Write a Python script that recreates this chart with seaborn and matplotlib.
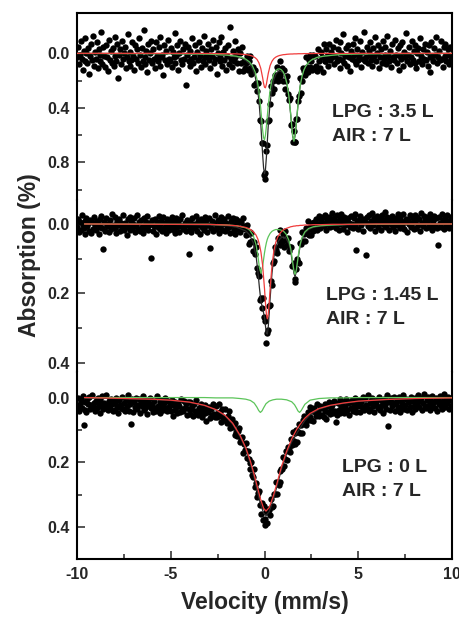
"""Stacked Mossbauer spectra (LPG / air series) redrawn with seaborn."""

import matplotlib

matplotlib.use("Agg")
import matplotlib.pyplot as plt
import numpy as np
import pandas as pd
import seaborn as sns

# ---------------------------------------------------------------------------
# Measured spectra (absorption %, one value per velocity channel, -10..10 mm/s)
# ---------------------------------------------------------------------------
TOP_ABS = [
    .03, -.05, .08, .01, -.09, .04, .12, -.02, .06, -.11, .00, .07, -.04, .15, .02, -.07, .05, -.13, .09, -.01,
    .04, -.08, .11, -.03, .06, .01, -.16, .08, -.05, .02, .10, -.06, .03, .13, -.10, .05, -.02, .07, -.04, .09,
    -.12, .02, .06, -.07, .18, .01, -.03, .08, -.09, .04, .00, -.05, .11, .03, -.14, .06, .09, -.01, .05, -.08,
    .02, .12, -.06, .04, -.03, .07, -.11, .01, .10, -.04, .06, -.17, .03, .08, -.02, .14, -.07, .05, .00, -.09,
    .07, -.03, .04, .11, -.08, .02, .06, -.05, .09, -.12, .03, .01, .16, -.06, .05, -.02, .08, -.10, .04, .06,
    -.04, .10, -.01, .03, -.15, .07, .02, -.06, .12, .00, -.09, .05, .08, -.03, .04, -.07, .23, .01, -.05, .06,
    .09, -.02, .04, -.11, .07, .03, -.06, .13, -.01, .05, -.08, .02, .10, -.04, .06, -.13, .03, .08, -.02, .01,
    -.07, .05, .11, -.03, .02, -.10, .07, .04, -.05, .15, .00, -.08, .06, .03, -.12, .09, -.01, .05, -.04, .12,
    .02, -.06, .08, -.19, .04, .10, -.02, .06, -.09, .03, .01, .07, -.03, .13, .00, .07, -.05, .13, .06, .11,
    .07, .02, .12, .06, .11, .02, .15, .12, .10, .23, .12, .22, .28, .22, .35, .49, .50, .66, .66, .89,
    .88, .92, .72, .67, .50, .49, .37, .24, .29, .20, .26, .16, .19, .10, .20, .15, .06, .17, .14, .11,
    .20, .12, .26, .20, .17, .30, .34, .33, .53, .52, .65, .57, .65, .65, .48, .48, .35, .31, .18, .29,
    .20, .11, .13, .16, .03, .10, .14, .05, .10, .01, .06, .12, .01,
    .11, .02, .09, .13, -.03, .06, .11, -.01, .03, .14, -.07, .06, .06, -.03, .02, .09, -.07, .05, -.01, .03,
    -.05, .08, .02, -.10, .06, -.03, .04, .11, -.08, .00, .05, -.14, .07, .02, -.04, .09, -.06, .03, .13, -.02,
    .04, -.07, .01, .06, -.11, .08, -.03, .05, .02, -.09, .10, -.01, .04, -.16, .06, .03, -.05, .07, -.02, .01,
    -.08, .05, .09, -.04, .02, -.12, .06, .00, -.06, .11, .03, -.03, .07, -.09, .04, .01, -.05, .08, -.13, .02,
    .06, -.02, .10, -.07, .03, .05, -.10, .01, .07, -.04, .12, -.06, .02, .04, -.08, .09, -.01, .03, -.15, .06,
    .01, -.05, .08, .03, -.09, .05, -.02, .07, -.06, .11, .00, -.04, .06, -.11, .02, .08, -.03, .04, -.07, .05,
    -.01, .09, -.06, .03, .14, -.08, .02, .06, -.04, .01, -.12, .07, .03, -.02, .05, -.09, .04, .10, -.05, .02,
    -.07, .06, .01, -.03, .08, -.05, .04, .02,
]

MID_ABS = [
    .008, -.014, .022, -.005, .016, -.026, .003, .011, -.009, .030, -.018, .006, -.002, .019, -.012, .025, -.007, .014, -.021, .004,
    .017, -.010, .001, .028, -.015, .009, -.023, .013, .072, -.006, .020, -.017, .005, -.001, .024, -.011, .015, -.028, .007, .002,
    -.019, .012, .027, -.008, .003, -.014, .021, -.004, .010, -.025, .016, -.002, .008, .031, -.013, .005, -.020, .018, -.009, .011,
    .000, -.016, .023, .006, -.027, .014, -.005, .019, -.011, .009, .026, -.018, .003, .013, -.007, -.022, .017, .004, -.003, .098,
    -.012, .021, .007, -.015, .029, -.006, .010, -.024, .015, .001, -.009, .020, -.019, .012, -.003, .025, -.014, .006, .018, -.008,
    .011, -.021, .002, .016, -.010, .027, -.017, .008, -.004, .022, -.013, .005, -.026, .014, .009, -.002, .019, -.011, .003, .087,
    -.007, .015, .024, -.018, .006, -.001, .013, -.023, .020, -.009, .004, .028, -.015, .010, -.005, .017, -.020, .007, -.012, .023,
    .002, -.016, .070, .011, -.008, .019, -.003, -.025, .014, .006, -.011, .026, -.006, .009, -.019, .016, .001, -.014, .021, -.004,
    .012, -.022, .008, .025, -.010, .003, -.017, .018, -.001, .030, -.013, .007, .015, -.009, .022, -.005, .011, -.018, .006, .014,
    .032, .002, .030, .059, .023, .053, .026, .049, .079, .053, .086, .065, .127, .141, .149, .218, .213, .243, .212, .268,
    .270, .280, .342, .313, .304, .237, .233, .164, .176, .113, .106, .065, .075, .084, .041, .045, .061, .016, .047, .051,
    .030, .067, .020, .045, .060, .040, .078, .065, .065, .122, .119, .112, .159, .168, .131, .100, .108, .111, .054, .057,
    .023, .050, .029, .050, .012, .027, -.010, .032, .015, .008, .032, -.002, .019,
    -.006, .012, -.014, .017, .001, -.024, .013, -.011, .002, -.019, .007, -.026, -.003, .016, -.014, .000, -.021, .009, -.008, -.033,
    .005, -.017, -.002, .012, -.025, -.009, .018, -.013, .001, -.028, -.006, .014, -.020, .003, -.011, .022, -.016, -.004, .008, -.024,
    -.001, .011, -.018, .006, -.029, .075, -.007, .015, -.012, -.023, .002, -.009, .019, -.015, -.005, .090, -.020, .007, -.027, -.003,
    .013, -.010, -.031, .004, -.016, .021, -.008, -.022, .009, -.002, -.014, .017, -.026, .000, -.011, .006, -.035, .010, -.019, -.006,
    .016, -.013, -.001, -.024, .008, -.009, .020, -.017, .003, -.028, -.005, .012, -.021, -.010, .005, -.030, .014, -.007, -.015, .024,
    -.012, .001, -.025, .009, -.004, -.018, .015, -.027, -.008, .011, -.020, .003, -.014, .019, -.032, -.002, .007, -.023, -.011, .013,
    -.006, -.019, .010, -.028, .002, -.013, .017, -.009, -.024, .005, -.016, .012, .060, -.021, -.003, .008, -.029, -.012, .015, -.007,
    -.018, .004, -.025, -.010, .011, -.004, -.020, .006,
]

BOT_ABS = [
    .028, .000, .043, .021, .009, .032, -.006, .086, .037, .014, .046, .005, .019, -.002, .034, .024, -.009, .029, .016, .040,
    .010, .033, .002, .022, .049, .007, .027, -.004, .036, .017, .030, -.008, .023, .038, .011, .031, .003, .020, .042, .008,
    .038, .016, .002, .029, .047, .007, .024, .032, -.002, .036, .018, .042, .009, .027, -.008, .040, .021, .013, .083, .004,
    .044, .015, .030, .000, .034, .023, .005, .048, .010, .026, -.004, .039, .019, .031, .007, .051, .014, .025, .002, .033,
    .020, .044, .011, .031, .040, -.004, .025, .035, .015, .048, .006, .027, .039, .018, .002, .033, .043, .012, .030, .023,
    .042, .008, .056, .023, .038, .013, .030, .049, .018, .025, .045, .004, .036, .040, .011, .032, .020, .054, .015, .035,
    .014, .050, .036, .026, .057, .021, .041, .008, .046, .053, .031, .044, .019, .060, .033, .048,
    .024, .048, .072, .032, .046, .028, .063, .036, .055, .021, .051, .059,
    .026, .059, .047, .019, .057, .045, .077, .035, .061, .069, .036, .062, .080, .057, .041, .095, .082, .066, .092, .083,
    .116, .079, .105, .119, .104, .093, .137, .129, .123, .170, .142, .163, .140, .187, .164, .190, .221, .203, .198, .238,
    .244, .222, .275, .265, .306, .295, .290, .332, .361, .327, .378, .335, .374, .395, .354, .387, .343, .349, .364, .312,
    .337, .335, .297, .299, .261, .297, .260, .269, .227, .261, .220, .222, .184, .211, .191, .164, .193, .154, .155, .168,
    .127, .148, .107, .134, .144, .111, .101, .136, .106, .081, .109, .085, .109, .069, .056, .080, .085, .063, .046, .070,
    .059, .029, .069, .040, .072, .031, .044, .056, .021, .045, .058, .025, .031,
    .053, .029, .060, .021, .042, .066, .026, .046, .014, .051, .031, .024, .049, .010, .041, .076, .055, .016, .037, .003,
    .048, .026, .040, .015, .048, .028, .004, .039, .017, .055, .014, .031, .007, .041, .024, .000, .037, .046, .018, .027,
    .007, .046, .015, .029, -.002, .037, .004, .024, .031, -.008, .040, .017, .034, .010, .001, .027, .044, .014, .021, .006,
    .033, -.003, .039, .025, .011, .048, .003, .022, .008, .036, -.009, .087, .013, .039, .002, .025, .016, -.003, .042, .020,
    .010, .031, -.001, .028, .044, .006, .017, -.007, .034, .023, .003, .038, .009, .015, .029, -.002, .046, .012, .026, .001,
    .035, .005, .019, -.007, .030, .012, .002, .039, .016, -.010, .025, .033, .009, -.002, .022, .038, .003, .018, -.005, .028,
    .014, .031, .000, .041, .006, .020, -.006, .027, .034, .011, -.012, .023, .029, .004, .017, -.003, .036, .008, .026, .001,
]

# ---------------------------------------------------------------------------
# Fitted curves: total (black), singlet (red), doublet (green)
# ---------------------------------------------------------------------------
TOP_FIT_VEL = [-10, -5, -3, -2, -1.5, -1.2, -1.0, -0.8, -0.65, -0.5, -0.4, -0.3, -0.2, -0.1, -0.05, 0.0, 0.05,
               0.1, 0.2, 0.3, 0.4, 0.5, 0.6, 0.7, 0.8, 0.9, 1.0, 1.1, 1.2, 1.3, 1.4, 1.45, 1.5, 1.57, 1.65,
               1.7, 1.8, 1.9, 2.0, 2.1, 2.2, 2.35, 2.5, 2.8, 3.2, 4.0, 5.0, 7.0, 10]
TOP_FIT_TOTAL = [.001, .003, .007, .015, .026, .038, .052, .077, .110, .169, .236, .344, .515, .742, .839, .884, .855,
                 .764, .532, .358, .254, .192, .156, .137, .130, .134, .147, .178, .230, .319, .455, .535, .606, .649,
                 .589, .513, .356, .243, .172, .125, .096, .068, .051, .031, .021, .010, .005, .002, .001]
TOP_FIT_SINGLET = [.000, .000, .001, .003, .004, .007, .009, .014, .020, .032, .045, .069, .110, .179, .220, .249, .253,
                   .227, .148, .090, .058, .039, .028, .021, .016, .013, .010, .009, .007, .006, .005, .005, .005, .004,
                   .004, .004, .003, .003, .003, .002, .002, .002, .002, .001, .001, .001, .000, .000, .000]
TOP_FIT_DOUBLET = [.001, .003, .006, .013, .021, .031, .043, .063, .090, .137, .191, .275, .405, .563, .619, .635, .603,
                   .537, .384, .268, .196, .153, .128, .116, .114, .121, .137, .169, .223, .313, .450, .530, .601, .645,
                   .585, .509, .353, .240, .169, .123, .094, .066, .049, .030, .020, .009, .005, .002, .001]

MID_FIT_VEL = [-9.6, -5, -3, -2, -1.5, -1.0, -0.8, -0.6, -0.45, -0.35, -0.27, -0.19, -0.1, 0.0, 0.05, 0.1, 0.15,
               0.2, 0.25, 0.3, 0.4, 0.5, 0.6, 0.7, 0.85, 1.0, 1.15, 1.3, 1.4, 1.5, 1.57, 1.63, 1.7, 1.8, 1.9, 2.0,
               2.15, 2.35, 2.6, 3.0, 3.6, 4.5, 6, 10]
MID_FIT_TOTAL = [.000, .001, .003, .005, .009, .020, .031, .054, .092, .138, .184, .223, .242, .269, .293, .314, .317,
                 .297, .258, .214, .141, .095, .069, .053, .041, .037, .041, .057, .079, .116, .142, .151, .137, .096,
                 .063, .043, .026, .016, .010, .006, .004, .002, .001, .000]
MID_FIT_SINGLET = [.000, .001, .001, .003, .005, .010, .014, .022, .032, .044, .059, .081, .119, .186, .226, .260, .273,
                   .260, .226, .186, .119, .077, .053, .038, .025, .017, .013, .010, .008, .007, .006, .006, .005, .005,
                   .004, .004, .003, .003, .002, .002, .001, .001, .000, .000]
MID_FIT_DOUBLET = [.000, .001, .001, .003, .005, .011, .017, .033, .060, .093, .126, .142, .122, .083, .067, .054, .044,
                   .037, .032, .027, .021, .018, .016, .016, .017, .020, .029, .047, .071, .108, .135, .145, .132, .091,
                   .059, .039, .023, .013, .008, .005, .003, .001, .001, .000]

BOT_FIT_VEL = [-9.6, -8, -6, -5, -4, -3.2, -2.6, -2.1, -1.7, -1.3, -1.0, -0.75, -0.55, -0.4, -0.31, -0.22, -0.13,
               -0.05, 0.08, 0.25, 0.45, 0.65, 0.9, 1.18, 1.45, 1.6, 1.72, 1.78, 1.87, 1.96, 2.02, 2.15, 2.43, 2.9,
               3.5, 4.2, 5, 6.5, 8, 10]
BOT_FIT_TOTAL = [.001, .003, .006, .009, .015, .025, .038, .057, .082, .121, .160, .204, .248, .285, .307, .328, .343,
                 .357, .364, .353, .319, .277, .223, .173, .137, .123, .111, .105, .098, .089, .083, .071, .053, .036,
                 .025, .018, .012, .006, .003, .001]
BOT_FIT_SINGLET = [.000, .002, .005, .008, .014, .024, .037, .055, .079, .117, .155, .197, .238, .272, .292, .312, .328,
                   .342, .351, .340, .308, .268, .215, .166, .128, .111, .098, .093, .085, .078, .073, .064, .049, .034,
                   .024, .017, .011, .006, .003, .001]
BOT_FIT_DOUBLET = [.000, .000, .000, .000, .000, .000, .001, .001, .001, .003, .005, .009, .017, .030, .040, .046, .041,
                   .032, .019, .011, .007, .005, .005, .007, .013, .022, .034, .041, .046, .040, .034, .021, .008, .003,
                   .001, .001, .000, .000, .000, .000]

SAMPLE_LABELS = [("LPG : 3.5 L", "AIR : 7 L"), ("LPG : 1.45 L", "AIR : 7 L"), ("LPG : 0 L", "AIR : 7 L")]

# ---------------------------------------------------------------------------
# Layout (pixel geometry of the original 459x621 figure)
# ---------------------------------------------------------------------------
W, H = 459, 621
X0, X1 = 77, 452
PANEL_PX = [(13, 200), (200, 372), (372, 559)]

PANELS = [
    dict(abs=TOP_ABS, vel=TOP_FIT_VEL, total=TOP_FIT_TOTAL, singlet=TOP_FIT_SINGLET, doublet=TOP_FIT_DOUBLET,
         ylim=(1.077, -0.296), major=[0.0, 0.4, 0.8], minor=[0.2, 0.6, 1.0], label_xy=(3.6, 0.465, 0.641)),
    dict(abs=MID_ABS, vel=MID_FIT_VEL, total=MID_FIT_TOTAL, singlet=MID_FIT_SINGLET, doublet=MID_FIT_DOUBLET,
         ylim=(0.426, -0.069), major=[0.0, 0.2, 0.4], minor=[0.1, 0.3], label_xy=(3.28, 0.219, 0.288)),
    dict(abs=BOT_ABS, vel=BOT_FIT_VEL, total=BOT_FIT_TOTAL, singlet=BOT_FIT_SINGLET, doublet=BOT_FIT_DOUBLET,
         ylim=(0.499, -0.079), major=[0.0, 0.2, 0.4], minor=[0.1, 0.3], label_xy=(4.12, 0.230, 0.303)),
]

RED = "#f03c3c"
GREEN = "#5cc45a"
LINE_BLACK = "#2a2a2a"


def main() -> None:
    sns.set_theme(style="ticks")
    plt.rcParams["font.family"] = ["Liberation Sans", "DejaVu Sans"]
    plt.rcParams["axes.linewidth"] = 1.5

    fig = plt.figure(figsize=(W / 100, H / 100), dpi=100)
    fig.patch.set_facecolor("white")

    axes = []
    for top_px, bot_px in PANEL_PX:
        rect = [X0 / W, 1 - bot_px / H, (X1 - X0) / W, (bot_px - top_px) / H]
        axes.append(fig.add_axes(rect))

    for i, (ax, p) in enumerate(zip(axes, PANELS)):
        spec = pd.DataFrame({"velocity": np.linspace(-10, 10, len(p["abs"])), "absorption": p["abs"]})
        fit = pd.DataFrame({"velocity": p["vel"], "total": p["total"],
                            "singlet": p["singlet"], "doublet": p["doublet"]})

        sns.scatterplot(data=spec, x="velocity", y="absorption", ax=ax, color="black",
                        s=21, linewidth=0, zorder=2)
        sns.lineplot(data=fit, x="velocity", y="total", ax=ax, color=LINE_BLACK, lw=0.9,
                     estimator=None, zorder=3)
        sns.lineplot(data=fit, x="velocity", y="doublet", ax=ax, color=GREEN, lw=0.9,
                     estimator=None, zorder=4)
        sns.lineplot(data=fit, x="velocity", y="singlet", ax=ax, color=RED, lw=0.9,
                     estimator=None, zorder=5)

        ax.set_xlim(-10, 10)
        ax.set_ylim(*p["ylim"])
        ax.set_xlabel("")
        ax.set_ylabel("")
        ax.set_facecolor("white")

        ax.set_yticks(p["major"])
        ax.set_yticks(p["minor"], minor=True)
        ax.set_yticklabels([f"{t:.1f}" for t in p["major"]], fontsize=11.5, fontweight="bold")
        ax.tick_params(axis="y", which="both", direction="in", left=True, right=False, pad=5)
        ax.tick_params(axis="y", which="major", length=5.8, width=1.1)
        ax.tick_params(axis="y", which="minor", length=3.6, width=1.1)

        for side in ("left", "right", "top", "bottom"):
            ax.spines[side].set_linewidth(1.5)
            ax.spines[side].set_color("black")
        if i > 0:
            ax.spines["top"].set_visible(False)
        if i < 2:
            ax.spines["bottom"].set_visible(False)
            ax.tick_params(axis="x", which="both", bottom=False, labelbottom=False)

        lx, ly1, ly2 = p["label_xy"]
        line1, line2 = SAMPLE_LABELS[i]
        ax.text(lx, ly1, line1, fontsize=14, fontweight="bold", ha="left", va="baseline", zorder=6)
        ax.text(lx, ly2, line2, fontsize=14, fontweight="bold", ha="left", va="baseline", zorder=6)

    bottom = axes[-1]
    bottom.set_xticks([-10, -5, 0, 5, 10])
    bottom.set_xticks([-7.5, -2.5, 2.5, 7.5], minor=True)
    bottom.set_xticklabels(["-10", "-5", "0", "5", "10"], fontsize=11.5, fontweight="bold")
    bottom.tick_params(axis="x", which="both", direction="in", bottom=True, top=False, pad=6)
    bottom.tick_params(axis="x", which="major", length=5.8, width=1.1)
    bottom.tick_params(axis="x", which="minor", length=3.6, width=1.1)

    fig.text(30 / W, 1 - 255 / H, "Absorption (%)", rotation=90, ha="center", va="center",
             fontsize=16.5, fontweight="bold")
    fig.text((X0 + X1) / 2 / W, 1 - 603 / H, "Velocity (mm/s)", ha="center", va="center",
             fontsize=16.5, fontweight="bold")

    fig.savefig("out.png", dpi=100, facecolor="white")
    plt.close(fig)


if __name__ == "__main__":
    main()
